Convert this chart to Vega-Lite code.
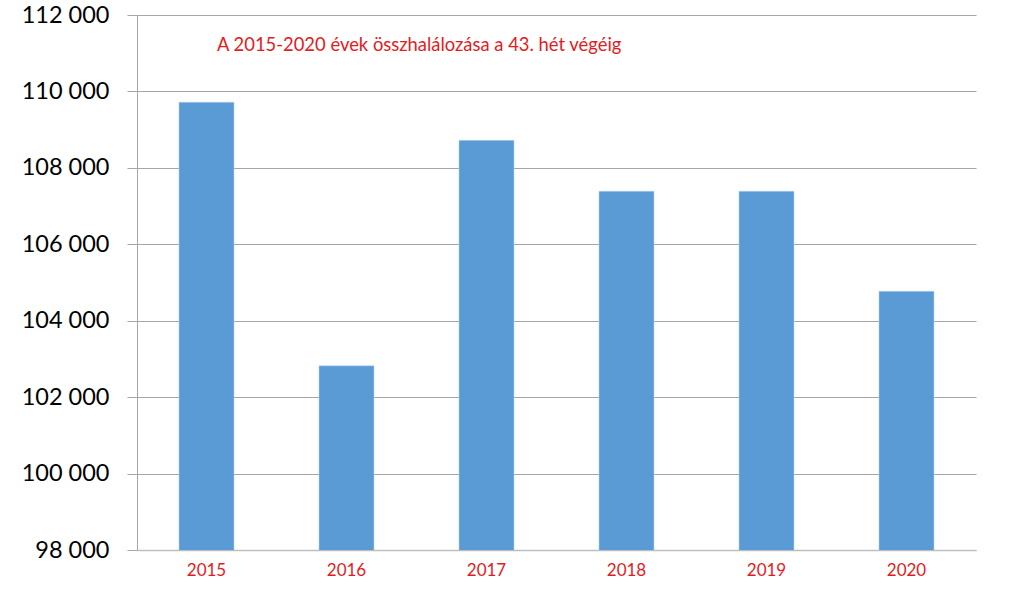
{
  "$schema": "https://vega.github.io/schema/vega-lite/v6.json",
  "width": 839,
  "height": 535,
  "autosize": {"type": "none"},
  "padding": {"left": 137, "top": 15, "right": 48, "bottom": 46},
  "background": "white",
  "config": {"view": {"stroke": null}, "font": "Lato"},
  "title": {
    "text": "A 2015-2020 évek összhalálozása a 43. hét végéig",
    "anchor": "start",
    "frame": "group",
    "orient": "top",
    "offset": 0,
    "dx": 80,
    "dy": 51,
    "fontSize": 18.4,
    "fontWeight": "normal",
    "color": "#E31B23",
    "font": "Lato"
  },
  "data": {
    "values": [
      {"year": "2015", "deaths": 109720},
      {"year": "2016", "deaths": 102820},
      {"year": "2017", "deaths": 108720},
      {"year": "2018", "deaths": 107390},
      {"year": "2019", "deaths": 107390},
      {"year": "2020", "deaths": 104770}
    ]
  },
  "mark": {"type": "bar", "color": "#5B9BD5", "stroke": "#BDD7EE", "strokeWidth": 0.5, "clip": true},
  "encoding": {
    "x": {
      "field": "year",
      "type": "ordinal",
      "scale": {"paddingInner": 0.607, "paddingOuter": 0.3},
      "axis": {
        "title": null,
        "labelAngle": 0,
        "labelColor": "#E31B23",
        "labelFontSize": 17,
        "labelPadding": 12,
        "ticks": false,
        "domainColor": "#BFBFBF",
        "domainWidth": 1.5,
        "grid": false
      }
    },
    "y": {
      "field": "deaths",
      "type": "quantitative",
      "scale": {"domain": [98000, 112000], "nice": false, "zero": false},
      "axis": {
        "title": null,
        "values": [98000, 100000, 102000, 104000, 106000, 108000, 110000, 112000],
        "labelExpr": "replace(format(datum.value, ',d'), ',', ' ')",
        "labelFontSize": 23.5,
        "labelColor": "#000000",
        "labelPadding": 18,
        "tickSize": 10,
        "tickColor": "#A6A6A6",
        "domainColor": "#A6A6A6",
        "grid": true,
        "gridColor": "#A6A6A6",
        "gridWidth": 1
      }
    }
  }
}
